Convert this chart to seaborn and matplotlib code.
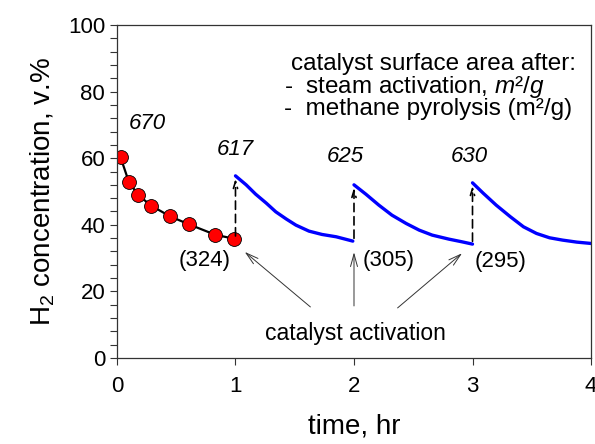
import numpy as np
import pandas as pd
import seaborn as sns
import matplotlib.pyplot as plt
from matplotlib.ticker import MultipleLocator

# first run, red points (hr, H2 %)
run_t = [0.03, 0.10, 0.18, 0.29, 0.45, 0.61, 0.83, 0.99]
run_h2 = [60.3, 52.9, 48.9, 45.7, 42.5, 40.1, 37.0, 35.8]

# blue curves after each activation
cyc1_t = [1.00, 1.09, 1.17, 1.26, 1.34, 1.43, 1.51, 1.62, 1.73, 1.85, 1.99]
cyc1_h2 = [54.7, 52.0, 49.2, 46.5, 43.9, 41.7, 39.9, 38.1, 37.1, 36.4, 35.1]
cyc2_t = [2.00, 2.10, 2.21, 2.32, 2.44, 2.55, 2.66, 2.80, 2.91, 3.00]
cyc2_h2 = [52.0, 49.2, 45.9, 42.9, 40.4, 38.4, 36.9, 35.7, 34.9, 34.2]
cyc3_t = [3.00, 3.09, 3.20, 3.32, 3.43, 3.54, 3.65, 3.76, 3.88, 4.00]
cyc3_h2 = [52.6, 49.5, 45.9, 42.4, 39.4, 37.4, 36.1, 35.4, 34.8, 34.4]

# surface areas
steam_area = ["670", "617", "625", "630"]
steam_xy = [(0.255, 70.5), (1.0, 62.6), (1.93, 60.4), (2.97, 60.4)]
pyro_area = ["(324)", "(305)", "(295)"]
pyro_xy = [(0.74, 29.4), (2.29, 29.4), (3.24, 29.0)]

# dashed jumps at activation (x, from, to)
jumps = [(1.0, 35.8, 54.7), (2.0, 35.1, 52.0), (3.0, 34.2, 52.6)]

sns.set_style("ticks")
plt.rcParams["font.family"] = ["Liberation Sans", "DejaVu Sans"]
plt.rcParams["mathtext.fontset"] = "custom"
plt.rcParams["mathtext.rm"] = "Liberation Sans"
plt.rcParams["mathtext.it"] = "Liberation Sans:italic"
plt.rcParams["text.color"] = "black"
plt.rcParams["axes.labelcolor"] = "black"
plt.rcParams["xtick.color"] = "black"
plt.rcParams["ytick.color"] = "black"

fig = plt.figure(figsize=(5.95, 4.44), dpi=100)
ax = fig.add_axes([0.1966, 0.1937, 0.7967, 0.75])

cyc = pd.DataFrame({
    "t": cyc1_t + cyc2_t + cyc3_t,
    "h2": cyc1_h2 + cyc2_h2 + cyc3_h2,
    "seg": [1] * len(cyc1_t) + [2] * len(cyc2_t) + [3] * len(cyc3_t),
})
sns.lineplot(data=cyc, x="t", y="h2", units="seg", estimator=None,
             color="#0000ff", lw=2.4, ax=ax)

run = pd.DataFrame({"t": run_t, "h2": run_h2})
sns.lineplot(data=run, x="t", y="h2", color="black", lw=1.6, marker="o",
             markersize=10, markerfacecolor="red", markeredgecolor="black",
             markeredgewidth=0.6, ax=ax)

for x, y0, y1 in jumps:
    ax.annotate("", xy=(x, y1), xytext=(x, y0),
                arrowprops=dict(arrowstyle="->,head_length=0.5,head_width=0.15",
                                ls=(0, (5, 3)), color="black", lw=1.2))

for s, (x, y) in zip(steam_area, steam_xy):
    ax.text(x, y, s, style="italic", fontsize=16, ha="center", va="center")
for s, (x, y) in zip(pyro_area, pyro_xy):
    ax.text(x, y, s, fontsize=16, ha="center", va="center")

ax.text(2.01, 7.5, "catalyst activation", fontsize=16.5, ha="center", va="center")
tips = [(1.06, 32.4), (2.0, 32.6), (2.93, 32.0)]
tails = [(1.65, 14.8), (2.0, 14.8), (2.35, 14.5)]
for tip, tail in zip(tips, tails):
    ax.annotate("", xy=tip, xytext=tail,
                arrowprops=dict(arrowstyle="->,head_length=0.9,head_width=0.25",
                                color="#333333", lw=0.7))

ax.text(1.47, 88.2, "catalyst surface area after:", fontsize=17.5, va="center")
ax.text(1.41, 81.5, "-  steam activation, $m²/g$", fontsize=17.5, va="center")
ax.text(1.41, 74.8, "-  methane pyrolysis (m²/g)", fontsize=17.5, va="center")

ax.set_xlim(0, 4)
ax.set_ylim(0, 100)
ax.set_xticks([0, 1, 2, 3, 4])
ax.set_yticks([0, 20, 40, 60, 80, 100])
ax.yaxis.set_minor_locator(MultipleLocator(4))
ax.tick_params(axis="both", which="major", labelsize=16, length=5, width=0.8, color="#333333")
ax.tick_params(axis="y", which="minor", length=5, width=0.8, color="#333333")
ax.tick_params(axis="x", pad=8)
for sp in ax.spines.values():
    sp.set_visible(True)
    sp.set_color("#333333")
    sp.set_linewidth(0.9)

ax.set_xlabel("time, hr", fontsize=20, labelpad=12)
ax.set_ylabel("H$_2$ concentration, v.%", fontsize=20, labelpad=8)

fig.savefig("out.png", dpi=100)
